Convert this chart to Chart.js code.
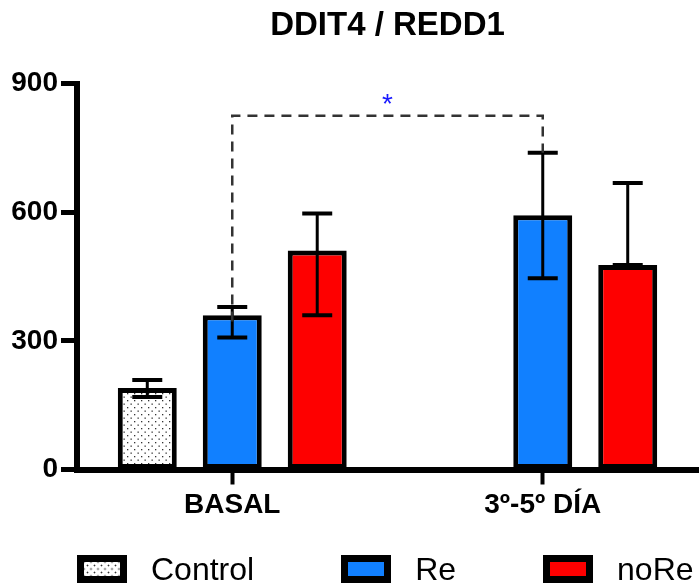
<!DOCTYPE html>
<html>
<head>
<meta charset="utf-8">
<script src="https://cdn.jsdelivr.net/npm/chart.js@4.4.1/dist/chart.umd.min.js"></script>
<style>
  body { margin: 0; background: #fff; }
  #wrap { position: relative; width: 699px; height: 586px; }
  #legend {
    position: absolute; left: 77px; top: 555px;
    display: flex; gap: 87px; align-items: center;
    font-family: "Liberation Sans", Arial, sans-serif; font-size: 32px; color: #000;
    white-space: nowrap;
  }
  .item { display: flex; align-items: center; gap: 24px; height: 28px; }
  .box { width: 36px; height: 14px; border: 7px solid #000; }
  .dots {
    background-color: #fff;
    background-image: radial-gradient(#333 0.8px, transparent 1.1px),
                      radial-gradient(#333 0.8px, transparent 1.1px);
    background-size: 7px 7px;
    background-position: 0 0, 3.5px 3.5px;
  }
</style>
</head>
<body>
<div id="wrap">
  <canvas id="chart"></canvas>
  <div id="legend"></div>
</div>
<script>
const groups = ['BASAL', '3º-5º DÍA'];
const control = [190, null];
const re = [360, 593];
const noRe = [511, 477];

// error bar ends (upper / lower)
const controlHigh = [209, null];
const controlLow = [169, null];
const reHigh = [379, 739];
const reLow = [308, 446];
const noReHigh = [597, 668];
const noReLow = [360, 477];

const yTicks = [0, 300, 600, 900];

// significance bracket between Re BASAL and Re 3º-5º DÍA
const sigLevel = 825;
const sigEnds = [345, 739];
const sigMark = '*';

const FONT = '"Liberation Sans", Arial, sans-serif';
const BLUE = '#1180ff';
const RED = '#fe0000';

// dotted fill for Control
const tile = document.createElement('canvas');
tile.width = 7; tile.height = 7;
const tctx = tile.getContext('2d');
tctx.fillStyle = '#fff';
tctx.fillRect(0, 0, 7, 7);
tctx.fillStyle = '#333';
tctx.fillRect(1, 1, 1.3, 1.3);
tctx.fillRect(4.5, 4.5, 1.3, 1.3);
const dotted = tctx.createPattern(tile, 'repeat');

const highs = [controlHigh, reHigh, noReHigh];
const lows = [controlLow, reLow, noReLow];

const errorBars = {
  id: 'errorBars',
  afterDatasetsDraw(chart) {
    const ctx = chart.ctx;
    const y = chart.scales.y;
    ctx.save();
    ctx.strokeStyle = '#000';
    chart.data.datasets.forEach((ds, i) => {
      chart.getDatasetMeta(i).data.forEach((bar, j) => {
        if (ds.data[j] == null) return;
        const x = bar.x;
        const top = y.getPixelForValue(highs[i][j]);
        const bot = y.getPixelForValue(lows[i][j]);
        ctx.lineWidth = 3;
        ctx.beginPath();
        ctx.moveTo(x, bot); ctx.lineTo(x, top);
        ctx.stroke();
        ctx.lineWidth = 4;
        ctx.beginPath();
        ctx.moveTo(x - 15, top); ctx.lineTo(x + 15, top);
        ctx.moveTo(x - 15, bot); ctx.lineTo(x + 15, bot);
        ctx.stroke();
      });
    });
    ctx.restore();
  }
};

const bracket = {
  id: 'bracket',
  afterDraw(chart) {
    const ctx = chart.ctx;
    const y = chart.scales.y;
    const bars = chart.getDatasetMeta(1).data;
    const x1 = bars[0].x, x2 = bars[1].x;
    const yl = y.getPixelForValue(sigLevel);
    ctx.save();
    ctx.strokeStyle = '#333';
    ctx.lineWidth = 2.5;
    ctx.setLineDash([10, 7]);
    ctx.beginPath();
    ctx.moveTo(x1, y.getPixelForValue(sigEnds[0]));
    ctx.lineTo(x1, yl);
    ctx.lineTo(x2, yl);
    ctx.lineTo(x2, y.getPixelForValue(sigEnds[1]));
    ctx.stroke();
    ctx.setLineDash([]);
    ctx.fillStyle = '#1a1aff';
    ctx.font = '28px ' + FONT;
    ctx.textAlign = 'center';
    ctx.textBaseline = 'middle';
    ctx.fillText(sigMark, (x1 + x2) / 2, yl - 10);
    ctx.restore();
  }
};

Chart.defaults.font.family = FONT;
Chart.defaults.color = '#000';

const chart = new Chart(document.getElementById('chart'), {
  type: 'bar',
  data: {
    labels: groups,
    datasets: [
      { label: 'Control', data: control, backgroundColor: dotted },
      { label: 'Re', data: re, backgroundColor: BLUE },
      { label: 'noRe', data: noRe, backgroundColor: RED }
    ]
  },
  options: {
    responsive: true,
    maintainAspectRatio: false,
    animation: false,
    datasets: {
      bar: {
        borderColor: '#000',
        borderWidth: 5,
        borderSkipped: false,
        categoryPercentage: 0.821,
        barPercentage: 0.694
      }
    },
    layout: { padding: { left: 0, right: 1, top: 0, bottom: 66.5 } },
    plugins: {
      legend: { display: false },
      tooltip: { enabled: false },
      title: {
        display: true,
        fullSize: false,
        text: 'DDIT4 / REDD1',
        font: { size: 33, weight: 'bold' },
        color: '#000',
        padding: { top: 6, bottom: 38 }
      }
    },
    scales: {
      x: {
        afterFit(scale) { scale.height = 50; },
        grid: { offset: false, drawOnChartArea: false, tickLength: 15, tickWidth: 4, tickColor: '#000' },
        border: { display: true, width: 6, color: '#000' },
        ticks: { font: { size: 28, weight: 'bold' }, padding: 4, color: '#000' }
      },
      y: {
        min: 0,
        max: 900,
        afterFit(scale) { scale.width = 77; },
        afterBuildTicks(scale) { scale.ticks = yTicks.map(v => ({ value: v })); },
        grid: { drawOnChartArea: false, tickLength: 16, tickWidth: 5, tickColor: '#000' },
        border: { display: true, width: 6, color: '#000' },
        ticks: { font: { size: 28, weight: 'bold' }, padding: 3, color: '#000' }
      }
    }
  },
  plugins: [errorBars, bracket]
});

// legend built from the datasets
const legend = document.getElementById('legend');
chart.data.datasets.forEach((ds, i) => {
  const item = document.createElement('div');
  item.className = 'item';
  const box = document.createElement('span');
  box.className = 'box' + (i === 0 ? ' dots' : '');
  if (i !== 0) box.style.background = ds.backgroundColor;
  const txt = document.createElement('span');
  txt.textContent = ds.label;
  item.appendChild(box);
  item.appendChild(txt);
  legend.appendChild(item);
});
</script>
</body>
</html>
